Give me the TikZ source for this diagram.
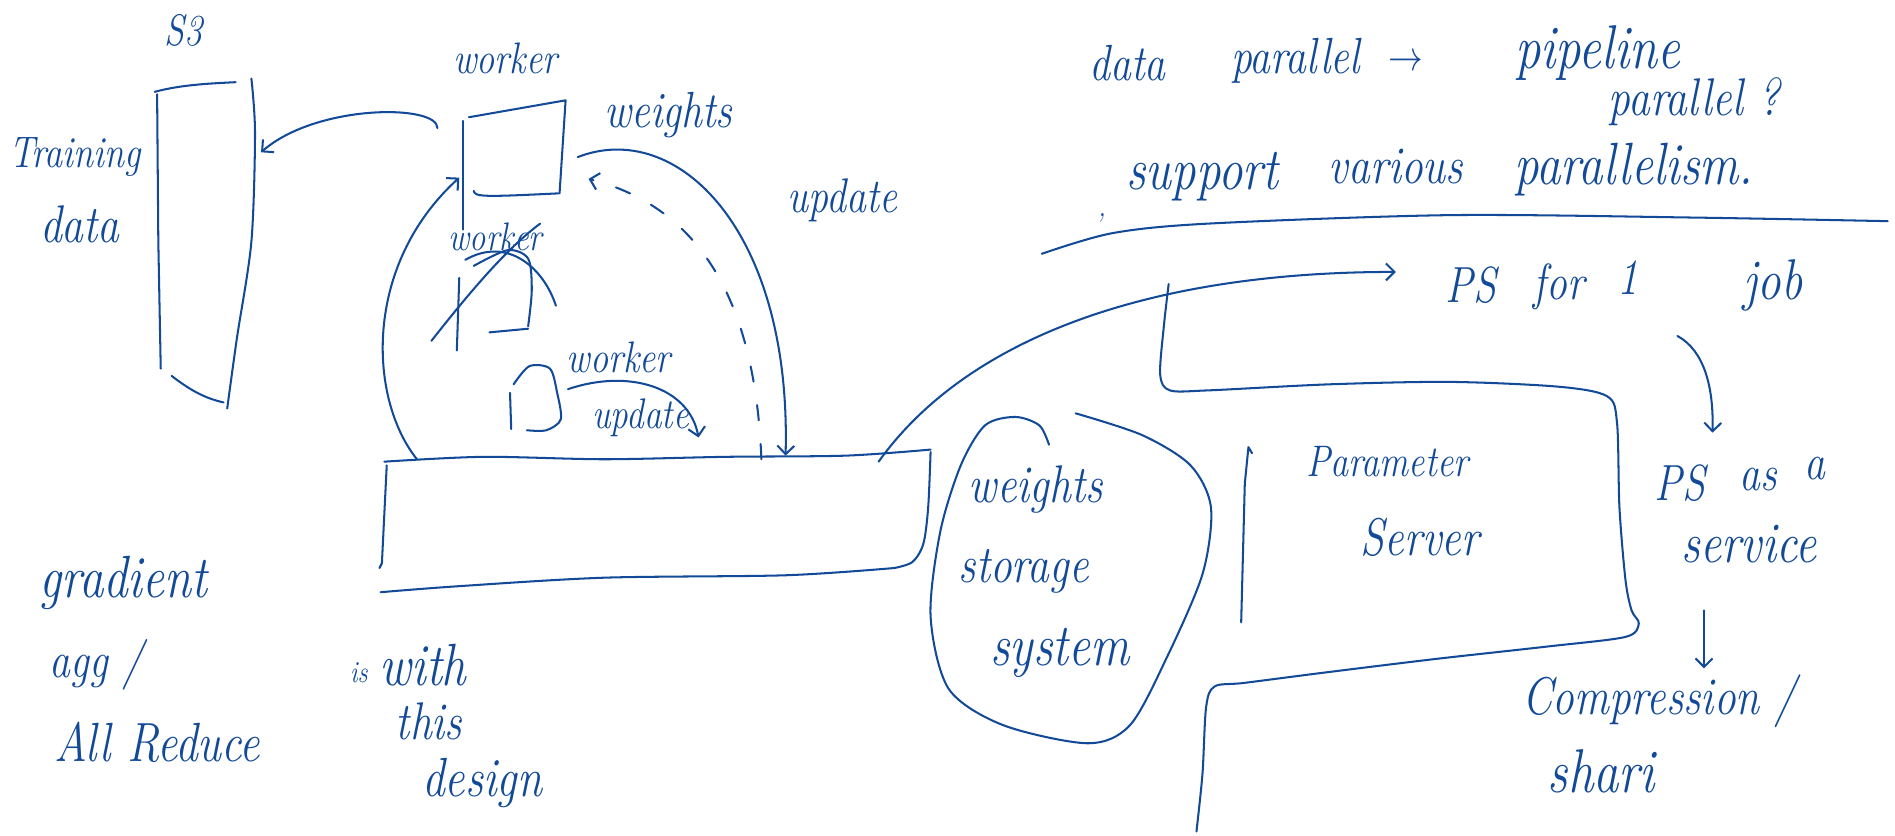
\documentclass[tikz,border=0pt]{standalone}
\usetikzlibrary{arrows.meta}
\definecolor{ink}{RGB}{18,74,152}
\begin{document}
\begin{tikzpicture}[x=0.025cm,y=-0.025cm,
  pen/.style={draw=ink,line width=1.2pt,line cap=round,line join=round},
  arr/.style={pen,-{Straight Barb[length=5pt,width=10pt]}},
  hw/.style={text=ink,font=\fontsize{26}{28}\selectfont\itshape,inner sep=0pt,xscale=0.82,transform shape},
  hws/.style={hw,font=\fontsize{18}{20}\selectfont\itshape}]
\useasboundingbox (0,0) rectangle (1568,691);

% ---------- S3 store ----------
\node[hw] (s3) at (152,25) {S3};
\draw[pen] (128,76) .. controls (150,70) and (175,69) .. (195,68);
\draw[pen] (130,78) -- (131,200) -- (133,305);
\draw[pen] plot[smooth] coordinates {(208,65) (211,110) (208,200) (196,280) (188,338)};
\draw[pen] (142,311) .. controls (160,325) and (172,330) .. (185,333);
\coordinate (s3r) at (216,126);
\node[hw] (training) at (62,130) {Training};
\node[hw,scale=1.2] (tdata) at (66,186) {data};

% ---------- worker A ----------
\node[hw] (wA) at (418,48) {worker};
\draw[pen] (388,97) -- (468,83) -- (463,160);
\draw[pen] (392,158) .. controls (393,163) and (400,163) .. (462,160);
\draw[pen] (383,100) -- (383,190);
\coordinate (wAtl) at (362,106);
\coordinate (wAr) at (478,130);
\coordinate (wAdash) at (487,148);
\coordinate (wAl) at (380,147);
\draw[arr] (wAtl) .. controls (362,86) and (262,86) .. (s3r);
\node[hw,scale=1.15] (weights) at (553,95) {weights};
\node[hw,scale=1.1] (update1) at (697,166) {update};

% ---------- crossed worker B ----------
\node[hws,scale=1.3] (wB) at (410,196) {worker};
\draw[pen] (380,230) -- (378,290);
\draw[pen] plot[smooth] coordinates {(392,220) (420,207) (437,214) (440,240) (437,270)};
\draw[pen] (405,275) -- (437,272);
\draw[pen] (357,282) .. controls (390,240) and (420,205) .. (447,185);
\draw[pen] (385,215) .. controls (420,195) and (450,222) .. (460,253);

% ---------- worker C ----------
\draw[pen] (422,325) -- (423,355);
\draw[pen] plot[smooth] coordinates {(425,318) (438,303) (455,305) (461,325) (464,347) (452,356) (436,356)};
\node[hw] (wC) at (512,296) {worker};
\coordinate (cA) at (470,322);
\coordinate (cB) at (578,362);
\draw[arr] (cA) .. controls (520,305) and (570,320) .. (cB);
\node[hws,scale=1.4] (update2) at (530,346) {update};

% ---------- aggregation box ----------
\draw[pen] plot[smooth] coordinates {(318,382) (400,378) (500,380) (600,378) (700,377) (770,372)};
\draw[pen] (320,385) -- (316,466) -- (314,470);
\draw[pen] plot[smooth] coordinates {(770,374) (768,420) (764,450) (755,465) (740,470)};
\draw[pen] plot[smooth] coordinates {(315,490) (380,485) (500,478) (650,476) (740,470)};
\coordinate (aggL) at (345,380);
\coordinate (aggU) at (650,377);
\coordinate (aggD) at (630,380);
\coordinate (aggR) at (727,382);
\draw[arr] (wAr) .. controls (560,98) and (655,190) .. (aggU);
\draw[arr,dashed,dash pattern=on 9pt off 14pt] (aggD) .. controls (625,250) and (580,172) .. (wAdash);
\draw[arr] (aggL) .. controls (305,330) and (300,220) .. (wAl);

\node[hw,scale=1.35] (grad) at (102,482) {gradient};
\node[hw,scale=1.15] (agg) at (80,550) {agg /};
\node[hw,scale=1.25] (allred) at (130,614) {All Reduce};
\node[hws] (is) at (297,557) {is};
\node[hw,scale=1.35] (with) at (350,550) {with};
\node[hw,scale=1.2] (this) at (355,597) {this};
\node[hw,scale=1.25] (design) at (399,648) {design};

% ---------- top right notes ----------
\node[hw,scale=1.15] (dp1) at (933,52) {data};
\node[hw,scale=1.15] (dp2) at (1072,50) {parallel};
\node[hw] (dparr) at (1163,52) {$\rightarrow$};
\node[hw,scale=1.4] (pp1) at (1322,44) {pipeline};
\node[hw,scale=1.2] (pp2) at (1402,84) {parallel ?};
\node[hws] (comma) at (912,180) {,};
\node[hw,scale=1.35] (sup) at (995,146) {support};
\node[hw,scale=1.2] (var) at (1155,138) {various};
\node[hw,scale=1.35] (par) at (1352,140) {parallelism.};
\draw[pen] plot[smooth] coordinates {(862,210) (920,193) (1000,185) (1200,178) (1400,180) (1562,183)};

% ---------- PS ----------
\node[hw,scale=1.15] (ps1) at (1217,236) {PS};
\node[hw,scale=1.15] (for) at (1290,237) {for};
\node[hw,scale=1.15] (one) at (1347,230) {1};
\node[hw,scale=1.3] (job) at (1467,236) {job};
\coordinate (psIn) at (1155,225);
\draw[arr] (aggR) .. controls (800,280) and (950,225) .. (psIn);
\coordinate (jobDa) at (1388,278);
\coordinate (jobDb) at (1417,358);
\draw[arr] (jobDa) .. controls (1410,290) and (1418,320) .. (jobDb);

\draw[pen] plot[smooth] coordinates {(967,235) (963,270) (960,310) (968,323) (1000,323) (1100,318) (1200,316) (1290,320) (1330,328) (1338,350) (1340,420) (1345,480) (1350,505) (1356,516) (1345,527) (1280,535) (1190,545) (1100,556) (1030,565) (1005,568) (998,585) (995,640) (990,688)};
\draw[pen] (1036,375) -- (1033,370) -- (1030,400) -- (1027,515);
\node[hw] (param) at (1148,382) {Parameter};
\node[hw,scale=1.2] (server) at (1175,445) {Server};

% ---------- weights storage ----------
\draw[pen] plot[smooth] coordinates {(868,368) (860,352) (840,345) (815,352) (795,385) (778,440) (770,510) (785,570) (830,600) (900,615) (935,600) (965,545) (995,475) (1002,420) (985,385) (945,360) (890,342)};
\node[hw,scale=1.2] (ws1) at (857,405) {weights};
\node[hw,scale=1.2] (ws2) at (847,473) {storage};
\node[hw,scale=1.35] (ws3) at (877,540) {system};

% ---------- PS as a service ----------
\node[hw,scale=1.15] (ps2) at (1390,400) {PS};
\node[hw,scale=1.15] (as) at (1455,397) {as};
\node[hw,scale=1.15] (a) at (1502,388) {a};
\node[hw,scale=1.3] (service) at (1447,450) {service};
\coordinate (svA) at (1410,505);
\coordinate (svB) at (1410,553);
\draw[arr] (svA) -- (svB);
\node[hw,scale=1.2] (comp) at (1373,580) {Compression /};
\node[hw,scale=1.4] (shari) at (1325,638) {shari};
\end{tikzpicture}
\end{document}
